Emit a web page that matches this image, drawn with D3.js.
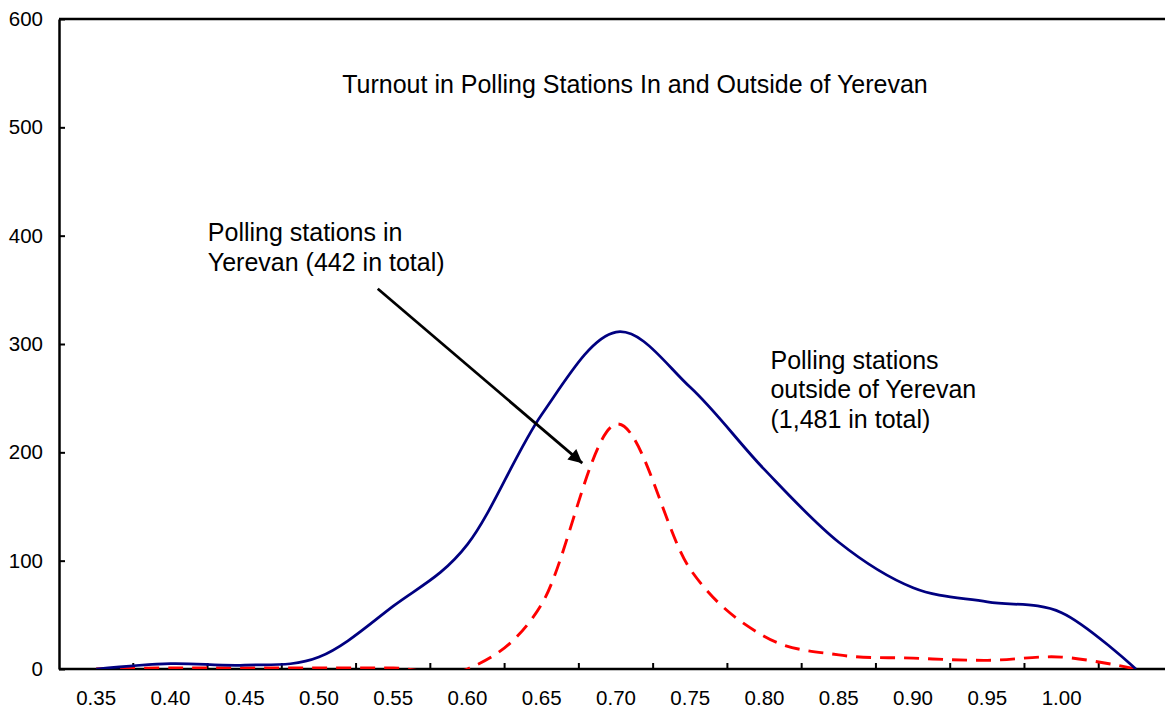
<!DOCTYPE html>
<html>
<head>
<meta charset="utf-8">
<script src="https://cdn.jsdelivr.net/npm/d3@7"></script>
<style>
  body { margin: 0; background: #fff; }
  svg { display: block; font-family: "Liberation Sans", Arial, sans-serif; }
</style>
</head>
<body>
<div class="chart-frame"></div>
<script>
// turnout bins (category axis), last bin has no label
var categories = [0.35, 0.40, 0.45, 0.50, 0.55, 0.60, 0.65, 0.70, 0.75, 0.80, 0.85, 0.90, 0.95, 1.00, 1.05];
var xLabels = ["0.35", "0.40", "0.45", "0.50", "0.55", "0.60", "0.65", "0.70", "0.75", "0.80", "0.85", "0.90", "0.95", "1.00", ""];
var outsideYerevan = [0, 5, 3.5, 11, 58, 115, 235, 311, 260, 184, 117, 75, 62, 52, 0];
var inYerevan = [0, 1, 1, 1, 1, 0, 60, 226, 92, 30, 13, 10, 8, 11, 0];
var yTicks = [0, 100, 200, 300, 400, 500, 600];

var width = 1165, height = 713;
var plotLeft = 59, plotTop = 19, plotBottom = 669, plotRight = 1173;

var svg = d3.select(".chart-frame")
    .append("svg")
    .attr("width", width)
    .attr("height", height);

var x = d3.scaleBand()
    .domain(categories)
    .range([plotLeft, plotRight])
    .padding(0);
var bw = x.bandwidth();
var cx = d => x(d) + bw / 2;

// linear helper for placing annotations on the turnout scale
var xv = d3.scaleLinear()
    .domain([categories[0], categories[categories.length - 1]])
    .range([cx(categories[0]), cx(categories[categories.length - 1])]);

var y = d3.scaleLinear()
    .domain([0, 600])
    .range([plotBottom, plotTop]);

svg.append("clipPath")
    .attr("id", "plot-clip")
    .append("rect")
    .attr("x", plotLeft)
    .attr("y", plotTop)
    .attr("width", plotRight - plotLeft)
    .attr("height", plotBottom - plotTop);

// frame top line
svg.append("line")
    .attr("x1", plotLeft).attr("x2", width + 10)
    .attr("y1", plotTop).attr("y2", plotTop)
    .style("stroke", "#000")
    .style("stroke-width", 2.5);

// y axis
var yAxis = svg.append("g")
    .attr("transform", `translate(${plotLeft},0)`)
    .call(d3.axisLeft(y).tickValues(yTicks).tickSizeInner(-6).tickSizeOuter(0).tickPadding(16));
yAxis.select(".domain").style("stroke", "#000").style("stroke-width", 2.5);
yAxis.selectAll(".tick line").style("stroke", "#000").style("stroke-width", 2);
yAxis.selectAll(".tick text")
    .style("font-family", '"Liberation Sans", Arial, sans-serif')
    .style("font-size", "20.5px")
    .style("fill", "#000");

// x axis
var xAxis = svg.append("g");
xAxis.append("line")
    .attr("x1", plotLeft).attr("x2", width + 10)
    .attr("y1", plotBottom).attr("y2", plotBottom)
    .style("stroke", "#000")
    .style("stroke-width", 2.5);
xAxis.selectAll(".xtick")
    .data(categories.slice(1))
    .join("line")
    .attr("class", "xtick")
    .attr("x1", d => x(d)).attr("x2", d => x(d))
    .attr("y1", plotBottom).attr("y2", plotBottom - 6)
    .style("stroke", "#000")
    .style("stroke-width", 2);
xAxis.selectAll(".xlabel")
    .data(categories)
    .join("text")
    .attr("class", "xlabel")
    .attr("x", d => cx(d))
    .attr("y", plotBottom + 36)
    .attr("text-anchor", "middle")
    .style("font-size", "20.5px")
    .text((d, i) => xLabels[i]);

var line = d3.line()
    .x((d, i) => cx(categories[i]))
    .y(d => y(d))
    .curve(d3.curveCardinal.tension(0));

var plot = svg.append("g").attr("clip-path", "url(#plot-clip)");

plot.append("path")
    .datum(inYerevan)
    .attr("d", line)
    .style("fill", "none")
    .style("stroke", "#ff0000")
    .style("stroke-width", 2.9)
    .style("stroke-dasharray", "15,9");

plot.append("path")
    .datum(outsideYerevan)
    .attr("d", line)
    .style("fill", "none")
    .style("stroke", "#000080")
    .style("stroke-width", 2.75);

// title
svg.append("text")
    .attr("x", 635)
    .attr("y", 93)
    .attr("text-anchor", "middle")
    .style("font-size", "25px")
    .text("Turnout in Polling Stations In and Outside of Yerevan");

// annotations
var inLabel = svg.append("text")
    .attr("x", xv(0.4252))
    .attr("y", y(395))
    .style("font-size", "25px");
inLabel.append("tspan").attr("x", xv(0.4252)).text("Polling stations in");
inLabel.append("tspan").attr("x", xv(0.4252)).attr("dy", 30).text("Yerevan (442 in total)");

var outLabel = svg.append("text")
    .attr("x", xv(0.804))
    .attr("y", y(277))
    .style("font-size", "25px");
outLabel.append("tspan").attr("x", xv(0.804)).text("Polling stations");
outLabel.append("tspan").attr("x", xv(0.804)).attr("dy", 29.5).text("outside of Yerevan");
outLabel.append("tspan").attr("x", xv(0.804)).attr("dy", 29.5).text("(1,481 in total)");

// arrow
svg.append("defs").append("marker")
    .attr("id", "arrow-head")
    .attr("viewBox", "0 0 10 10")
    .attr("refX", 10).attr("refY", 5)
    .attr("markerWidth", 6).attr("markerHeight", 5)
    .attr("markerUnits", "strokeWidth")
    .attr("orient", "auto")
    .append("path")
    .attr("d", "M0,0 L10,5 L0,10 z")
    .style("fill", "#000");

svg.append("line")
    .attr("x1", xv(0.5396)).attr("y1", y(351))
    .attr("x2", xv(0.6773)).attr("y2", y(190))
    .style("stroke", "#000")
    .style("stroke-width", 2.75)
    .attr("marker-end", "url(#arrow-head)");
</script>
</body>
</html>
